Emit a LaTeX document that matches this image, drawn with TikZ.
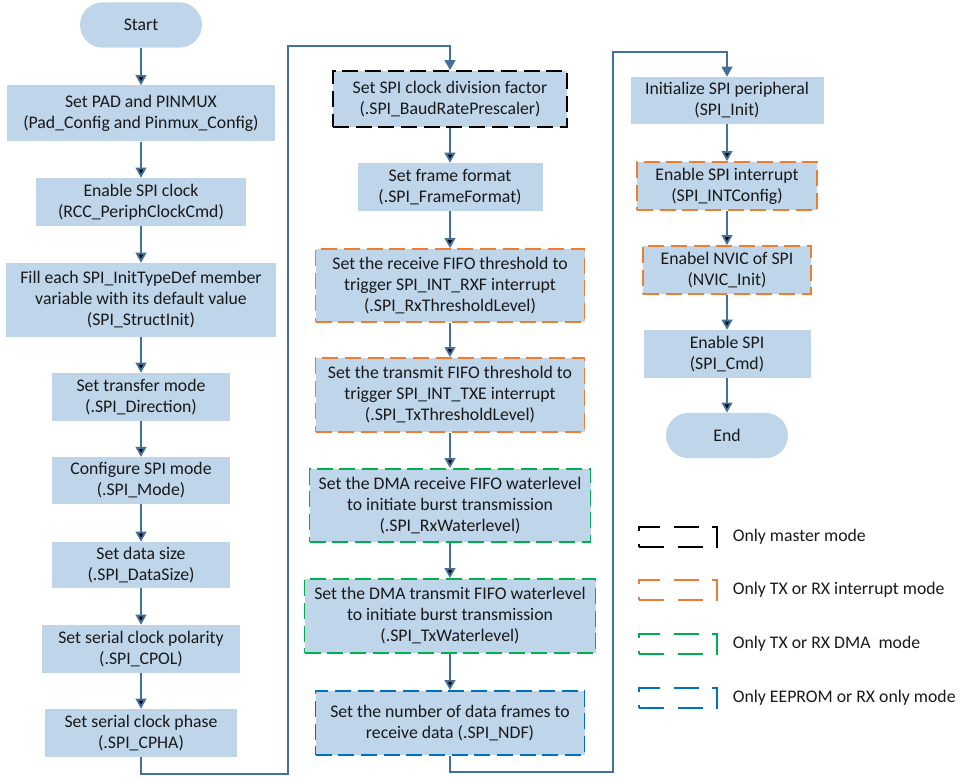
\documentclass[tikz,border=0pt]{standalone}
\usepackage{fontspec}
\setmainfont{Carlito}
\usetikzlibrary{positioning, calc}
\usetikzlibrary{arrows.meta}
\usetikzlibrary{shapes}
\definecolor{boxfill}{RGB}{190,213,234}
\definecolor{flowblue}{RGB}{65,113,156}
\definecolor{intorange}{RGB}{237,125,49}
\definecolor{dmagreen}{RGB}{0,176,80}
\definecolor{eepblue}{RGB}{0,112,192}

\begin{document}
\begin{tikzpicture}[x=0.75pt,y=-0.75pt,font=\fontsize{13.3}{15.8}\selectfont,text=black!90]
	\def \colone{141}
	\def \coltwo{450}
	\def \colthree{727}
	\def \legx{678}
	\tikzstyle{s-node}=[rectangle,fill=boxfill,align=center,inner sep=2pt]
	\tikzstyle{t-node}=[rectangle,rounded corners=17pt,fill=boxfill,minimum width=91.5pt,minimum height=34pt,inner sep=2pt]
	\tikzstyle{m-box}=[s-node,draw=black,line width=1.3pt,dash pattern=on 12pt off 5pt]
	\tikzstyle{i-box}=[m-box,draw=intorange]
	\tikzstyle{d-box}=[m-box,draw=dmagreen]
	\tikzstyle{e-box}=[m-box,draw=eepblue]
	\tikzstyle{leg}=[rectangle,minimum width=58.5pt,minimum height=15pt,line width=1.3pt,dash pattern=on 19pt off 10pt]
	\tikzstyle{annot}=[anchor=west,inner sep=0pt]
	\tikzstyle{flow}=[draw=flowblue,line width=1.4pt,-{Triangle[length=7.5pt,width=8pt]}]
	\useasboundingbox (0,0) rectangle (970,780);

	% first column
	\node[t-node] 	(start)	at (\colone,25)		{Start};
	\node[s-node,minimum width=201pt,minimum height=42pt] 	(pad)	at (\colone,113.5)	{Set PAD and PINMUX\\(Pad\_Config and Pinmux\_Config)};
	\node[s-node,minimum width=157.5pt,minimum height=36pt] 	(clk)	at (\colone,202)	{Enable SPI clock\\(RCC\_PeriphClockCmd)};
	\node[s-node,minimum width=202.5pt,minimum height=55.5pt] 	(fill)	at (\colone,300)	{Fill each SPI\_InitTypeDef member\\variable with its default value\\(SPI\_StructInit)};
	\node[s-node,minimum width=133.5pt,minimum height=36pt] 	(dir)	at (\colone,397)	{Set transfer mode\\(.SPI\_Direction)};
	\node[s-node,minimum width=133.5pt,minimum height=35pt] 	(mode)	at (\colone,480.5)	{Configure SPI mode\\(.SPI\_Mode)};
	\node[s-node,minimum width=133.5pt,minimum height=34.5pt] 	(size)	at (\colone,565)	{Set data size\\(.SPI\_DataSize)};
	\node[s-node,minimum width=148.5pt,minimum height=36pt] 	(cpol)	at (\colone,649)	{Set serial clock polarity\\(.SPI\_CPOL)};
	\node[s-node,minimum width=144pt,minimum height=36pt] 	(cpha)	at (\colone,733)	{Set serial clock phase\\(.SPI\_CPHA)};

	% second column
	\node[m-box,minimum width=175.5pt,minimum height=42pt] 	(div)	at (\coltwo,99)	{Set SPI clock division factor\\(.SPI\_BaudRatePrescaler)};
	\node[s-node,minimum width=138.75pt,minimum height=36pt] 	(frame)	at (\coltwo,187)	{Set frame format\\(.SPI\_FrameFormat)};
	\node[i-box,minimum width=201.75pt,minimum height=54.75pt] 	(rxth)	at (\coltwo,285.5)	{Set the receive FIFO threshold to\\trigger SPI\_INT\_RXF interrupt\\(.SPI\_RxThresholdLevel)};
	\node[i-box,minimum width=201.75pt,minimum height=55.5pt] 	(txth)	at (\coltwo,395)	{Set the transmit FIFO threshold to\\trigger SPI\_INT\_TXE interrupt\\(.SPI\_TxThresholdLevel)};
	\node[d-box,minimum width=210.75pt,minimum height=54.75pt] 	(rxwl)	at (\coltwo,505.5)	{Set the DMA receive FIFO waterlevel\\to initiate burst transmission\\(.SPI\_RxWaterlevel)};
	\node[d-box,minimum width=218.25pt,minimum height=55.5pt] 	(txwl)	at (\coltwo,616)	{Set the DMA transmit FIFO waterlevel\\to initiate burst transmission\\(.SPI\_TxWaterlevel)};
	\node[e-box,minimum width=201.75pt,minimum height=48pt] 	(ndf)	at (\coltwo,723)	{Set the number of data frames to\\receive data (.SPI\_NDF)};

	% third column
	\node[s-node,minimum width=144.75pt,minimum height=35.25pt] 	(init)	at (\colthree,100.5)	{Initialize SPI peripheral\\(SPI\_Init)};
	\node[i-box,minimum width=135pt,minimum height=36pt] 	(int)	at (\colthree,186)	{Enable SPI interrupt\\(SPI\_INTConfig)};
	\node[i-box,minimum width=126pt,minimum height=36pt] 	(nvic)	at (\colthree,270)	{Enabel NVIC of SPI\\(NVIC\_Init)};
	\node[s-node,minimum width=125.25pt,minimum height=36pt] 	(en)	at (\colthree,354)	{Enable SPI\\(SPI\_Cmd)};
	\node[t-node] 	(end)	at (\colthree,435.5)	{End};

	% legend
	\node[leg,draw=black] 	(legm)	at (\legx,537)	{};
	\node[leg,draw=intorange] 	(legi)	at (\legx,590)	{};
	\node[leg,draw=dmagreen] 	(legd)	at (\legx,644)	{};
	\node[leg,draw=eepblue] 	(lege)	at (\legx,698)	{};
	\node[annot,right=11pt of legm] 	(legmtxt)	{Only master mode};
	\node[annot,right=11pt of legi] 	(legitxt)	{Only TX or RX interrupt mode};
	\node[annot,right=11pt of legd] 	(legdtxt)	{Only TX or RX DMA\ \ mode};
	\node[annot,right=11pt of lege] 	(legetxt)	{Only EEPROM or RX only mode};

	% turning points
	\coordinate (turna) at (288,774);
	\coordinate (turnb) at (288,46);
	\coordinate (turnc) at (613,772);
	\coordinate (turnd) at (613,52);

	\path[flow]
		(start)	edge	(pad)
		(pad)	edge	(clk)
		(clk)	edge	(fill)
		(fill)	edge	(dir)
		(dir)	edge	(mode)
		(mode)	edge	(size)
		(size)	edge	(cpol)
		(cpol)	edge	(cpha)
		%
		(div)	edge	(frame)
		(frame)	edge	(rxth)
		(rxth)	edge	(txth)
		(txth)	edge	(rxwl)
		(rxwl)	edge	(txwl)
		(txwl)	edge	(ndf)
		%
		(init)	edge	(int)
		(int)	edge	(nvic)
		(nvic)	edge	(en)
		(en)	edge	(end);
	\draw[flow] (cpha.south) |- (turna) -- (turnb) -| (div.north);
	\draw[flow] (ndf.south) |- (turnc) -- (turnd) -| (init.north);
\end{tikzpicture}
\end{document}
